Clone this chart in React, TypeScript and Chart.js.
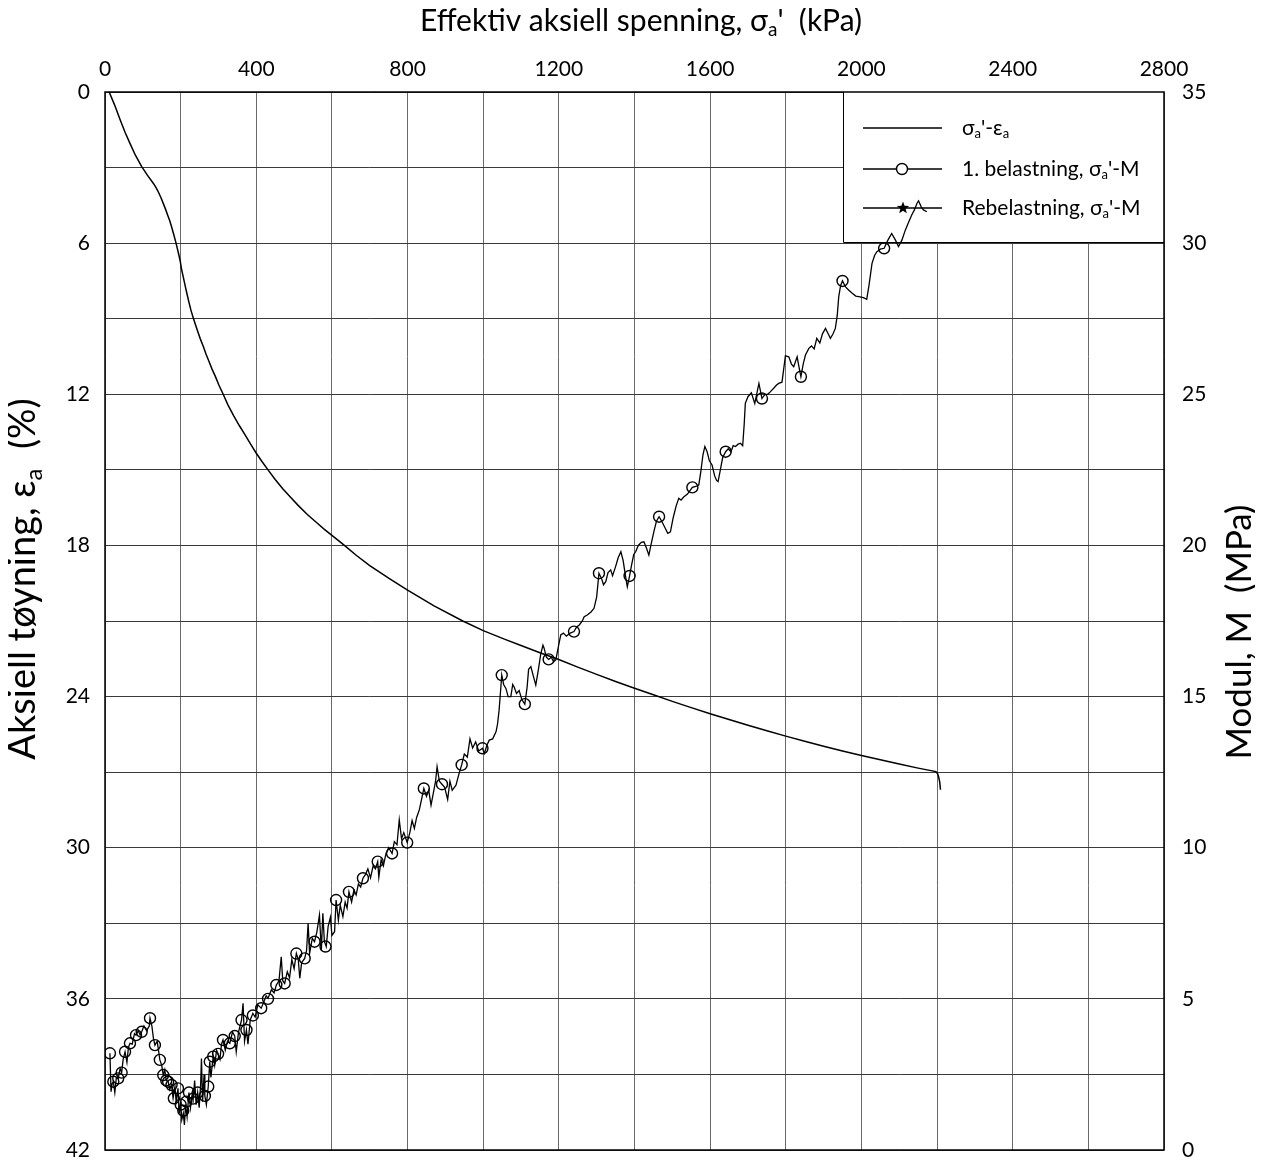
import React, { useEffect, useRef } from 'react';
import { Chart, registerables } from 'chart.js';

Chart.register(...registerables);

// σa' (kPa) vs εa (%)
const strainStress = [11, 25, 40, 53, 66, 80, 97, 112, 128, 135, 142, 148, 154, 160, 166, 171, 176, 181, 187, 191, 195, 199, 202, 207, 212, 217, 222, 227, 233, 239, 245, 252, 260, 267, 275, 283, 292, 301, 311, 325, 340, 355, 370, 385, 400, 415, 431, 450, 470, 490, 510, 535, 560, 580, 600, 633, 665, 700, 750, 800, 870, 946, 1000, 1056, 1100, 1150, 1198, 1250, 1300, 1350, 1400, 1450, 1500, 1550, 1600, 1650, 1700, 1750, 1800, 1850, 1900, 1950, 2000, 2050, 2100, 2150, 2197, 2201, 2204, 2207, 2209];
const strainValues = [0, 0.5, 1.1, 1.6, 2.04, 2.5, 2.96, 3.3, 3.63, 3.8, 4.0, 4.2, 4.42, 4.65, 4.9, 5.1, 5.35, 5.62, 5.95, 6.2, 6.45, 6.72, 7.0, 7.35, 7.7, 8.03, 8.35, 8.65, 8.95, 9.23, 9.5, 9.8, 10.1, 10.4, 10.7, 11.0, 11.3, 11.63, 11.95, 12.42, 12.85, 13.24, 13.6, 13.98, 14.34, 14.67, 15.0, 15.38, 15.75, 16.08, 16.4, 16.77, 17.1, 17.36, 17.6, 18.0, 18.4, 18.8, 19.3, 19.77, 20.4, 21.0, 21.38, 21.72, 21.97, 22.26, 22.52, 22.83, 23.12, 23.4, 23.67, 23.93, 24.19, 24.44, 24.68, 24.91, 25.14, 25.36, 25.57, 25.77, 25.97, 26.16, 26.34, 26.51, 26.68, 26.84, 26.98, 27.05, 27.18, 27.4, 27.7];

// σa' (kPa) vs M (MPa), 1. belastning
const modStress = [13, 16, 19, 22, 26, 30, 35, 40, 44, 48, 53, 58, 62, 66, 72, 78, 82, 88, 93, 97, 103, 110, 117, 119, 124, 128, 132, 138, 145, 150, 154, 158, 162, 167, 171, 176, 180, 185, 188, 193, 196, 200, 203, 207, 210, 213, 217, 222, 226, 230, 233, 237, 241, 245, 249, 253, 255, 258, 262, 264, 268, 273, 277, 280, 286, 290, 295, 299, 304, 308, 312, 318, 324, 330, 337, 343, 347, 353, 361, 365, 369, 374, 378, 384, 391, 397, 404, 413, 420, 426, 431, 440, 447, 453, 460, 466, 470, 475, 482, 488, 494, 500, 506, 511, 515, 520, 528, 533, 537, 541, 548, 554, 560, 567, 572, 576, 580, 585, 590, 596, 600, 607, 611, 617, 622, 629, 635, 640, 645, 652, 658, 664, 670, 676, 682, 688, 695, 702, 709, 715, 721, 724, 730, 736, 743, 750, 759, 765, 772, 778, 784, 790, 799, 806, 812, 818, 824, 831, 837, 843, 850, 856, 862, 868, 874, 878, 884, 891, 898, 906, 912, 918, 928, 935, 943, 950, 958, 965, 972, 980, 988, 998, 1003, 1010, 1016, 1025, 1034, 1038, 1042, 1046, 1049, 1054, 1060, 1066, 1073, 1078, 1082, 1088, 1095, 1102, 1110, 1116, 1120, 1126, 1132, 1139, 1146, 1152, 1158, 1161, 1167, 1173, 1180, 1186, 1192, 1198, 1205, 1212, 1220, 1230, 1240, 1247, 1254, 1262, 1267, 1275, 1285, 1293, 1300, 1306, 1313, 1318, 1324, 1330, 1337, 1342, 1350, 1357, 1364, 1370, 1376, 1381, 1387, 1393, 1398, 1403, 1410, 1418, 1425, 1432, 1438, 1445, 1452, 1458, 1465, 1472, 1480, 1488, 1495, 1502, 1510, 1517, 1523, 1530, 1540, 1553, 1562, 1570, 1576, 1581, 1586, 1592, 1598, 1605, 1612, 1617, 1621, 1627, 1633, 1641, 1648, 1655, 1661, 1667, 1674, 1680, 1686, 1690, 1693, 1700, 1709, 1718, 1729, 1737, 1745, 1752, 1759, 1768, 1775, 1781, 1790, 1799, 1808, 1815, 1821, 1830, 1835, 1840, 1846, 1852, 1861, 1868, 1875, 1882, 1890, 1897, 1905, 1912, 1918, 1925, 1931, 1936, 1940, 1945, 1950, 1958, 1966, 1975, 1985, 1993, 2005, 2014, 2020, 2028, 2035, 2041, 2050, 2060, 2070, 2080, 2090, 2098, 2107, 2116, 2125, 2133, 2140, 2147, 2151, 2158, 2164, 2173];
const modValues = [3.2, 1.93, 2.2, 2.26, 1.9, 2.4, 2.37, 2.7, 2.56, 3.0, 3.25, 2.9, 3.4, 3.53, 3.5, 3.85, 3.8, 3.95, 3.8, 3.91, 4.1, 3.95, 4.1, 4.36, 4.1, 3.7, 3.47, 3.6, 2.98, 2.8, 2.48, 2.65, 2.3, 2.26, 2.0, 2.15, 1.71, 2.1, 1.6, 2.04, 1.2, 1.6, 1.0, 1.21, 0.83, 1.5, 1.1, 1.9, 1.4, 1.8, 1.65, 2.3, 1.5, 1.9, 1.4, 2.2, 3.03, 1.6, 2.5, 1.79, 1.5, 2.1, 2.92, 2.4, 3.09, 2.8, 3.3, 3.18, 3.0, 3.5, 3.64, 3.3, 3.6, 3.53, 3.9, 3.77, 3.25, 3.9, 4.3, 4.85, 3.6, 3.97, 3.5, 4.3, 4.52, 4.4, 4.8, 4.69, 4.9, 5.1, 5.02, 5.3, 5.2, 5.46, 5.6, 6.39, 5.6, 5.51, 5.9, 5.7, 6.3, 6.0, 6.5, 6.3, 5.68, 6.2, 6.34, 6.6, 7.5, 6.5, 7.0, 6.89, 7.2, 7.77, 6.6, 7.83, 6.9, 6.73, 7.4, 7.7, 7.1, 7.22, 8.27, 7.6, 8.1, 7.72, 8.2, 8.0, 8.54, 8.2, 8.6, 8.44, 8.8, 8.7, 8.99, 9.1, 9.3, 9.0, 9.4, 9.3, 9.54, 9.02, 9.6, 9.4, 9.81, 10.0, 9.81, 10.2, 10.1, 10.92, 10.3, 10.5, 10.17, 10.5, 10.9, 10.64, 11.0, 11.25, 11.6, 11.96, 11.7, 11.9, 11.41, 11.8, 12.2, 12.68, 12.2, 12.1, 12.0, 11.6, 12.2, 11.9, 12.07, 12.4, 12.74, 13.1, 13.0, 13.6, 13.3, 13.5, 13.2, 13.29, 13.12, 13.4, 13.56, 13.6, 13.84, 14.1, 14.55, 15.2, 15.71, 15.4, 15.27, 15.0, 15.0, 15.4, 15.31, 15.1, 15.2, 14.9, 14.75, 15.3, 15.9, 15.99, 15.7, 15.38, 15.9, 16.4, 16.7, 16.6, 16.3, 16.23, 16.3, 16.15, 16.21, 16.6, 17.04, 17.1, 17.0, 17.1, 17.15, 17.3, 17.37, 17.5, 17.64, 17.7, 17.8, 17.92, 18.3, 19.08, 18.9, 18.7, 18.8, 19.1, 19.19, 19.0, 19.3, 19.6, 19.79, 19.5, 19.0, 18.63, 18.99, 19.4, 19.7, 19.79, 20.0, 20.1, 20.12, 19.9, 19.68, 20.1, 20.5, 20.8, 20.95, 20.8, 20.6, 20.4, 20.45, 20.9, 21.3, 21.56, 21.5, 21.6, 21.7, 21.92, 21.95, 22.0, 22.5, 23.0, 23.27, 23.1, 22.8, 22.66, 22.3, 22.15, 22.11, 22.5, 22.9, 23.1, 23.2, 23.1, 23.3, 23.27, 23.35, 23.38, 23.3, 24.0, 24.7, 24.92, 25.05, 24.7, 25.36, 24.86, 25.0, 25.0, 25.08, 25.2, 25.3, 25.36, 25.4, 26.27, 26.24, 26.0, 25.91, 26.24, 25.9, 25.58, 26.0, 26.3, 26.52, 26.6, 26.5, 26.85, 26.7, 27.0, 27.18, 27.0, 26.85, 27.0, 27.18, 27.6, 28.23, 28.6, 28.75, 28.55, 28.45, 28.35, 28.25, 28.23, 28.2, 28.14, 28.6, 29.33, 29.6, 29.72, 29.8, 29.83, 30.1, 30.32, 30.1, 29.89, 30.1, 30.43, 30.7, 30.93, 31.1, 31.32, 31.4, 31.2, 31.1, 31.04];

// circle markers on the 1. belastning series
const circleStress = [13, 22, 35, 44, 53, 66, 82, 97, 119, 132, 145, 154, 162, 167, 176, 182, 193, 200, 207, 215, 222, 233, 245, 264, 273, 277, 286, 299, 312, 330, 343, 361, 374, 391, 413, 431, 453, 475, 506, 528, 554, 583, 611, 645, 682, 721, 759, 799, 843, 891, 943, 998, 1049, 1110, 1173, 1240, 1306, 1387, 1465, 1553, 1641, 1737, 1840, 1950, 2060];
const circleValues = [3.2, 2.26, 2.37, 2.56, 3.25, 3.53, 3.8, 3.91, 4.36, 3.47, 2.98, 2.48, 2.3, 2.26, 2.15, 1.71, 2.04, 1.5, 1.3, 1.6, 1.9, 1.7, 1.9, 1.79, 2.1, 2.92, 3.09, 3.18, 3.64, 3.53, 3.77, 4.3, 3.97, 4.45, 4.69, 5.0, 5.46, 5.51, 6.5, 6.34, 6.89, 6.73, 8.27, 8.54, 8.99, 9.54, 9.81, 10.17, 11.96, 12.1, 12.74, 13.29, 15.71, 14.75, 16.23, 17.15, 19.08, 18.99, 20.95, 21.92, 23.1, 24.86, 25.58, 28.75, 29.83];

// Rebelastning (no points in plot)
const reloadStress: number[] = [];
const reloadValues: number[] = [];

const xTickLabels = [0, 400, 800, 1200, 1600, 2000, 2400, 2800];
const leftTickLabels = [0, 6, 12, 18, 24, 30, 36, 42];
const rightTickLabels = [0, 5, 10, 15, 20, 25, 30, 35];

const FONT = "Lato, 'DejaVu Sans', sans-serif";
const TICK_SIZE = 21;
const TOP_TITLE_SIZE = 30;
const LEFT_TITLE_SIZE = 38;
const RIGHT_TITLE_SIZE = 35;
const LEGEND_SIZE = 21;

type Seg = { t: string; sub?: boolean };

function richWidth(ctx: CanvasRenderingContext2D, segs: Seg[], size: number) {
  let w = 0;
  for (const s of segs) {
    ctx.font = `${s.sub ? Math.round(size * 0.62) : size}px ${FONT}`;
    w += ctx.measureText(s.t).width;
  }
  return w;
}

function drawRich(ctx: CanvasRenderingContext2D, segs: Seg[], x: number, y: number, size: number, align: 'left' | 'center') {
  const w = richWidth(ctx, segs, size);
  let cx = align === 'center' ? x - w / 2 : x;
  ctx.textAlign = 'left';
  ctx.textBaseline = 'middle';
  ctx.fillStyle = '#000';
  for (const s of segs) {
    const sz = s.sub ? Math.round(size * 0.62) : size;
    ctx.font = `${sz}px ${FONT}`;
    ctx.fillText(s.t, cx, s.sub ? y + size * 0.3 : y);
    cx += ctx.measureText(s.t).width;
  }
}

function drawStar(ctx: CanvasRenderingContext2D, x: number, y: number, r: number) {
  ctx.beginPath();
  for (let i = 0; i < 10; i++) {
    const ang = -Math.PI / 2 + (i * Math.PI) / 5;
    const rr = i % 2 === 0 ? r : r * 0.42;
    const px = x + rr * Math.cos(ang);
    const py = y + rr * Math.sin(ang);
    if (i === 0) ctx.moveTo(px, py);
    else ctx.lineTo(px, py);
  }
  ctx.closePath();
  ctx.fillStyle = '#000';
  ctx.fill();
}

const decorPlugin = {
  id: 'decor',
  beforeDatasetsDraw(chart: any) {
    const { ctx, chartArea } = chart;
    const { left, top, right, bottom } = chartArea;
    ctx.save();
    // legend box
    const lx = 835;
    const lb = 234;
    ctx.fillStyle = '#fff';
    ctx.fillRect(lx, top, right - lx, lb - top);
    ctx.strokeStyle = '#000';
    ctx.lineWidth = 1;
    ctx.beginPath();
    ctx.moveTo(lx + 0.5, top);
    ctx.lineTo(lx + 0.5, lb + 0.5);
    ctx.lineTo(right, lb + 0.5);
    ctx.stroke();

    const rows = [120, 161, 200];
    ctx.lineWidth = 1.5;
    for (const ry of rows) {
      ctx.beginPath();
      ctx.moveTo(855, ry);
      ctx.lineTo(934, ry);
      ctx.stroke();
    }
    ctx.beginPath();
    ctx.arc(894, rows[1], 5.5, 0, Math.PI * 2);
    ctx.fillStyle = '#fff';
    ctx.fill();
    ctx.lineWidth = 1.4;
    ctx.stroke();
    drawStar(ctx, 895, rows[2], 6.5);

    const tx = 954;
    drawRich(ctx, [{ t: 'σ' }, { t: 'a', sub: true }, { t: "'-ε" }, { t: 'a', sub: true }], tx, rows[0], LEGEND_SIZE, 'left');
    drawRich(ctx, [{ t: '1. belastning, σ' }, { t: 'a', sub: true }, { t: "'-M" }], tx, rows[1], LEGEND_SIZE, 'left');
    drawRich(ctx, [{ t: 'Rebelastning, σ' }, { t: 'a', sub: true }, { t: "'-M" }], tx, rows[2], LEGEND_SIZE, 'left');

    // frame
    ctx.strokeStyle = '#000';
    ctx.lineWidth = 1.5;
    ctx.strokeRect(left, top, right - left, bottom - top);
    ctx.restore();
  },
  afterDraw(chart: any) {
    const { ctx } = chart;
    ctx.save();
    // top title
    drawRich(ctx, [{ t: 'Effektiv aksiell spenning, σ' }, { t: 'a', sub: true }, { t: "'  (kPa)" }], 633, 13, TOP_TITLE_SIZE, 'center');
    // left title
    ctx.save();
    ctx.translate(15, 571);
    ctx.rotate(-Math.PI / 2);
    drawRich(ctx, [{ t: 'Aksiell tøyning, ε' }, { t: 'a', sub: true }, { t: '  (%)' }], 0, 0, LEFT_TITLE_SIZE, 'center');
    ctx.restore();
    // right title
    ctx.save();
    ctx.translate(1232, 624);
    ctx.rotate(-Math.PI / 2);
    drawRich(ctx, [{ t: 'Modul, M  (MPa)' }], 0, 0, RIGHT_TITLE_SIZE, 'center');
    ctx.restore();
    ctx.restore();
  },
};

export default function App() {
  const ref = useRef<HTMLCanvasElement | null>(null);

  useEffect(() => {
    if (!ref.current) return;
    const strainData = strainStress.map((x, i) => ({ x, y: strainValues[i] }));
    const modData = modStress.map((x, i) => ({ x, y: modValues[i] }));
    const circleData = circleStress.map((x, i) => ({ x, y: circleValues[i] }));
    const reloadData = reloadStress.map((x, i) => ({ x, y: reloadValues[i] }));
    const tickFont = { family: FONT, size: TICK_SIZE };
    const noVPad = (s: any) => {
      s.paddingTop = 0;
      s.paddingBottom = 0;
    };

    const chart = new Chart(ref.current, {
      type: 'line',
      data: {
        datasets: [
          {
            label: "σa'-εa",
            data: strainData,
            xAxisID: 'x',
            yAxisID: 'yL',
            borderColor: '#000',
            borderWidth: 1.5,
            pointRadius: 0,
            tension: 0,
            fill: false,
          },
          {
            label: "1. belastning, σa'-M",
            data: modData,
            xAxisID: 'x',
            yAxisID: 'yR',
            borderColor: '#000',
            borderWidth: 1.3,
            pointRadius: 0,
            tension: 0,
            fill: false,
          },
          {
            label: 'markers',
            data: circleData,
            xAxisID: 'x',
            yAxisID: 'yR',
            showLine: false,
            pointStyle: 'circle',
            pointRadius: 5.5,
            pointBorderWidth: 1.4,
            pointBorderColor: '#000',
            pointBackgroundColor: 'rgba(0,0,0,0)',
          },
          {
            label: "Rebelastning, σa'-M",
            data: reloadData,
            xAxisID: 'x',
            yAxisID: 'yR',
            borderColor: '#000',
            borderWidth: 1.3,
            pointRadius: 4,
          },
        ],
      },
      options: {
        animation: false,
        responsive: false,
        maintainAspectRatio: false,
        layout: { padding: { top: 0, left: 0, right: 0, bottom: 11 } },
        plugins: {
          legend: { display: false },
          tooltip: { enabled: false },
          title: { display: false },
        },
        scales: {
          x: {
            type: 'linear',
            position: 'top',
            min: 0,
            max: 2800,
            afterFit: (s: any) => {
              s.height = 84;
              s.paddingLeft = 0;
              s.paddingRight = 0;
            },
            ticks: {
              stepSize: 200,
              autoSkip: false,
              maxRotation: 0,
              padding: 10,
              color: '#000',
              font: tickFont,
              callback: (v: any) => (xTickLabels.includes(Number(v)) ? String(v) : ''),
            },
            grid: { color: '#6a6a6a', lineWidth: 1, drawTicks: false },
            border: { display: false },
          },
          yL: {
            type: 'linear',
            position: 'left',
            reverse: true,
            min: 0,
            max: 42,
            afterFit: (s: any) => {
              s.width = 97;
              noVPad(s);
            },
            ticks: {
              stepSize: 3,
              autoSkip: false,
              padding: 15,
              color: '#000',
              font: tickFont,
              callback: (v: any) => (leftTickLabels.includes(Number(v)) ? String(v) : ''),
            },
            grid: { color: '#3a3a3a', lineWidth: 1, drawTicks: false },
            border: { display: false },
          },
          yR: {
            type: 'linear',
            position: 'right',
            min: 0,
            max: 35,
            afterFit: (s: any) => {
              s.width = 99;
              noVPad(s);
            },
            ticks: {
              stepSize: 5,
              autoSkip: false,
              padding: 18,
              color: '#000',
              font: tickFont,
              callback: (v: any) => (rightTickLabels.includes(Number(v)) ? String(v) : ''),
            },
            grid: { display: false, drawTicks: false },
            border: { display: false },
          },
        },
      },
      plugins: [decorPlugin],
    } as any);
    return () => chart.destroy();
  }, []);

  return (
    <div style={{ width: 1247, height: 1153, overflow: 'visible' }}>
      <canvas ref={ref} width={1255} height={1153} style={{ display: 'block' }} />
    </div>
  );
}
